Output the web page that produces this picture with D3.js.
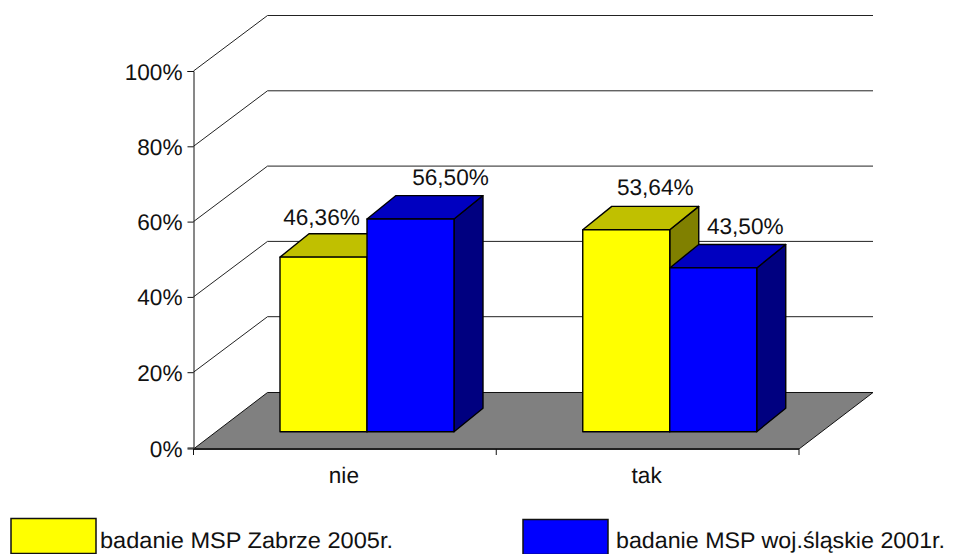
<!DOCTYPE html>
<html><head><meta charset="utf-8">
<script src="https://cdn.jsdelivr.net/npm/d3@7"></script>
<style>html,body{margin:0;padding:0;background:#fff}svg{display:block}text{font-family:"Liberation Sans",Arial,sans-serif;fill:#111;text-rendering:geometricPrecision}</style>
</head><body><svg id="c" width="954" height="554"></svg>
<script>
const categories = ["nie", "tak"];
const seriesNames = ["badanie MSP Zabrze 2005r.", "badanie MSP woj.śląskie 2001r."];
const zabrze2005 = [46.36, 53.64];
const slaskie2001 = [56.50, 43.50];
const valueLabels = [["46,36%", "53,64%"], ["56,50%", "43,50%"]];
const tickValues = [0, 20, 40, 60, 80, 100];
const faceColors = ["#ffff00", "#0000ff"];
const topColors = ["#c0c000", "#0000c0"];
const sideColors = ["#808000", "#000080"];

const svg = d3.select("#c");
const y = d3.scaleLinear().domain([0, 100]).range([447.5, 71]);
const x = d3.scaleBand().domain(categories).range([193.5, 799]);
const depth = {dx: 74, dy: -56};
const barDepth = {dx: 29, dy: -23.4};
const barBase = 431.7 - y(0);
const floorFront = 1.5, floorBack = 1;
const inner = d3.scaleBand().domain([0, 1]).range([86.5, 260.5]);
const line = p => "M" + p.map(d => d.join(",")).join("L") + "Z";
const fs = 22.6;

// walls
const [xl, xr] = x.range();
const yf = y(0) + floorFront, yfb = y(0) + depth.dy + floorBack;
svg.append("path").attr("fill", "#808080").attr("stroke", "#111").attr("stroke-width", 1)
  .attr("d", line([[xl, yf], [xl + depth.dx, yfb], [xr + depth.dx, yfb], [xr, yf]]));
tickValues.slice(1).forEach(t => {
  svg.append("path").attr("fill", "none").attr("stroke", "#222").attr("stroke-width", 1)
    .attr("d", `M${xl},${y(t)}L${xl + depth.dx},${y(t) + depth.dy + 0.5}L${xr + depth.dx},${y(t) + depth.dy + 0.5}`);
});

// axes
const yAxis = d3.axisLeft(y).tickValues(tickValues).tickSize(6).tickPadding(5).tickFormat(d => d + "%");
const gy = svg.append("g").attr("transform", `translate(${xl},0)`).call(yAxis);
gy.selectAll("text").style("font-size", fs + "px").attr("dy", "0.355em");
gy.selectAll("path,line").attr("stroke", "#111");
gy.selectAll(".tick").filter(d => d === 0).attr("transform", `translate(0,${yf})`);
const gx = svg.append("g").attr("transform", `translate(0,${yf})`);
gx.append("line").attr("x1", xl).attr("x2", xr).attr("stroke", "#222").attr("stroke-width", 2);
[xl, xl + x.step(), xr].forEach(v => gx.append("line").attr("x1", v).attr("x2", v).attr("y1", 0).attr("y2", 6).attr("stroke", "#111"));
categories.forEach(c => gx.append("text").attr("x", x(c) + x.step() / 2 - 1).attr("y", 33.5)
  .attr("text-anchor", "middle").style("font-size", fs + "px").text(c));

// bars
const seriesValues = [zabrze2005, slaskie2001];
const bw = inner.bandwidth();
categories.forEach((c, ci) => {
  [0, 1].forEach(si => {
    const v = seriesValues[si][ci];
    const x0 = x(c) + inner(si), x1 = x0 + bw;
    const yb = y(0) + barBase, yt = y(v) + barBase;
    const g = svg.append("g").attr("stroke", "#000").attr("stroke-width", 1.4).attr("stroke-linejoin", "round");
    g.append("path").attr("fill", sideColors[si]).attr("d", line([[x1, yb], [x1 + barDepth.dx, yb + barDepth.dy], [x1 + barDepth.dx, yt + barDepth.dy], [x1, yt]]));
    g.append("path").attr("fill", topColors[si]).attr("d", line([[x0, yt], [x0 + barDepth.dx, yt + barDepth.dy], [x1 + barDepth.dx, yt + barDepth.dy], [x1, yt]]));
    g.append("path").attr("fill", faceColors[si]).attr("d", line([[x0, yb], [x0, yt], [x1, yt], [x1, yb]]));
  });
});
// value labels
const labelDx = [[-31, 0], [11, 3]];
const labelDy = [[-8.8, -11.3], [-10.6, -10.5]];
categories.forEach((c, ci) => {
  [0, 1].forEach(si => {
    const v = seriesValues[si][ci];
    svg.append("text").attr("x", x(c) + inner(si) + bw / 2 + barDepth.dx + labelDx[si][ci])
      .attr("y", y(v) + barBase + barDepth.dy + labelDy[si][ci]).attr("text-anchor", "middle")
      .style("font-size", fs + "px").text(valueLabels[si][ci]);
  });
});
// legend
const legendX = [11, 523], legendY = [518.5, 519.5], legendTextX = [100, 616], legendLen = [293, 329];
seriesNames.forEach((n, i) => {
  svg.append("rect").attr("x", legendX[i]).attr("y", legendY[i]).attr("width", 85).attr("height", 35)
    .attr("fill", faceColors[i]).attr("stroke", "#111").attr("stroke-width", 1.5);
  svg.append("text").attr("x", legendTextX[i]).attr("y", 548).style("font-size", fs + "px")
    .attr("textLength", legendLen[i]).attr("lengthAdjust", "spacingAndGlyphs").text(n);
});
</script></body></html>
